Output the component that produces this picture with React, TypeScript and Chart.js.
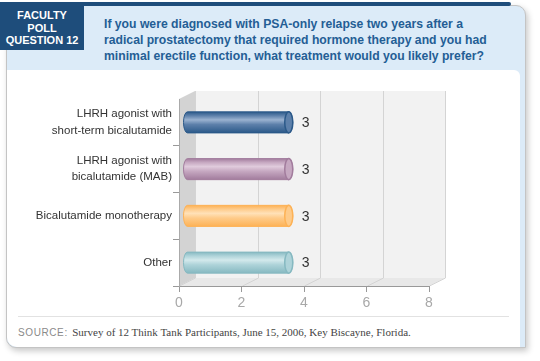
import React, { useEffect, useRef } from "react";
import { Chart, registerables } from "chart.js";

Chart.register(...registerables);

// ---- data ----
const categories: (string | string[])[] = [
  ["LHRH agonist with", "short-term bicalutamide"],
  ["LHRH agonist with", "bicalutamide (MAB)"],
  "Bicalutamide monotherapy",
  "Other",
];
const values = [3, 3, 3, 3];
const xTickValues = [0, 2, 4, 6, 8];
const headerLabel = ["FACULTY", "POLL", "QUESTION 12"];
const questionLines = [
  "If you were diagnosed with PSA-only relapse two years after a",
  "radical prostatectomy that required hormone therapy and you had",
  "minimal erectile function, what treatment would you likely prefer?",
];
const sourceLabel = "SOURCE:";
const sourceText = "Survey of 12 Think Tank Participants, June 15, 2006, Key Biscayne, Florida.";

// ---- styles ----
const barEdge = ["#2b5989", "#a27c9d", "#fdb256", "#86b9c1"];
const barMid = ["#5d80aa", "#c6a8c1", "#fecb8a", "#aed3d9"];
const barLight = ["#9ab2d0", "#e0cbdc", "#ffe1b8", "#d3e9ec"];
const DEPTH_X = 16;
const DEPTH_Y = -8;
const SANS = '"Liberation Sans", Arial, Helvetica, sans-serif';

const threeD = {
  id: "threeD",
  beforeDraw(chart: any) {
    const { ctx, chartArea } = chart;
    const xs = chart.scales.x;
    const L = chartArea.left, R = chartArea.right, T = chartArea.top, B = chartArea.bottom;
    ctx.save();
    // back wall
    ctx.fillStyle = "#f2f2f2";
    ctx.fillRect(L + DEPTH_X, T + DEPTH_Y, R - L, B - T);
    // floor
    ctx.fillStyle = "#e8e8e8";
    ctx.beginPath();
    ctx.moveTo(L, B);
    ctx.lineTo(R, B);
    ctx.lineTo(R + DEPTH_X, B + DEPTH_Y);
    ctx.lineTo(L + DEPTH_X, B + DEPTH_Y);
    ctx.closePath();
    ctx.fill();
    // grid lines on wall + floor
    ctx.strokeStyle = "#d4d4d4";
    ctx.lineWidth = 1;
    xs.ticks.forEach((t: any) => {
      const px = Math.round(xs.getPixelForValue(t.value)) + 0.5;
      ctx.beginPath();
      ctx.moveTo(px + DEPTH_X, T + DEPTH_Y);
      ctx.lineTo(px + DEPTH_X, B + DEPTH_Y);
      ctx.lineTo(px, B);
      ctx.stroke();
    });
    // left wall
    ctx.fillStyle = "#d3d3d3";
    ctx.beginPath();
    ctx.moveTo(L, T);
    ctx.lineTo(L + DEPTH_X, T + DEPTH_Y);
    ctx.lineTo(L + DEPTH_X, B + DEPTH_Y);
    ctx.lineTo(L, B);
    ctx.closePath();
    ctx.fill();
    ctx.restore();
  },
  afterDatasetsDraw(chart: any) {
    const { ctx } = chart;
    const meta = chart.getDatasetMeta(0);
    ctx.save();
    meta.data.forEach((el: any, i: number) => {
      const h = el.height;
      const top = el.y - h / 2;
      const bottom = el.y + h / 2;
      const rx = 4;
      const x0 = el.base + 4 + rx;
      const x1 = el.x + DEPTH_X;
      const g = ctx.createLinearGradient(0, top, 0, bottom);
      g.addColorStop(0, barEdge[i]);
      g.addColorStop(0.18, barMid[i]);
      g.addColorStop(0.38, barLight[i]);
      g.addColorStop(0.6, barMid[i]);
      g.addColorStop(1, barEdge[i]);
      ctx.beginPath();
      ctx.moveTo(x0, top);
      ctx.lineTo(x1, top);
      ctx.ellipse(x1, el.y, rx, h / 2, 0, -Math.PI / 2, Math.PI / 2);
      ctx.lineTo(x0, bottom);
      ctx.ellipse(x0, el.y, rx, h / 2, 0, Math.PI / 2, (3 * Math.PI) / 2);
      ctx.closePath();
      ctx.fillStyle = g;
      ctx.fill();
      ctx.strokeStyle = barEdge[i];
      ctx.lineWidth = 1;
      ctx.stroke();
      // end cap
      ctx.beginPath();
      ctx.ellipse(x1, el.y, rx, h / 2, 0, 0, Math.PI * 2);
      ctx.fillStyle = barMid[i];
      ctx.fill();
      ctx.strokeStyle = barEdge[i];
      ctx.lineWidth = 1.5;
      ctx.stroke();
      // value label
      ctx.fillStyle = "#333";
      ctx.font = `14px ${SANS}`;
      ctx.textAlign = "left";
      ctx.textBaseline = "middle";
      ctx.fillText(String(values[i]), x1 + rx + 9, el.y + 1);
    });
    ctx.restore();
  },
};

export default function App() {
  const ref = useRef<HTMLCanvasElement | null>(null);
  useEffect(() => {
    document.body.style.margin = "0";
    const chart = new Chart(ref.current as HTMLCanvasElement, {
      type: "bar",
      data: {
        labels: categories as any,
        datasets: [
          {
            data: values,
            backgroundColor: "rgba(0,0,0,0)",
            borderWidth: 0,
            categoryPercentage: 1,
            barPercentage: 0.45,
          },
        ],
      },
      options: {
        indexAxis: "y",
        responsive: false,
        maintainAspectRatio: false,
        animation: false,
        devicePixelRatio: 1,
        layout: { padding: { left: 0, top: 99, right: 111, bottom: 0 } },
        plugins: { legend: { display: false }, tooltip: { enabled: false } },
        scales: {
          x: {
            min: 0,
            max: 8,
            afterBuildTicks: (s: any) => {
              s.ticks = xTickValues.map((v) => ({ value: v }));
            },
            afterFit: (s: any) => {
              s.height = 75;
            },
            ticks: { color: "#a8a8a8", font: { size: 14, family: SANS }, padding: 3 },
            grid: { drawOnChartArea: false, drawTicks: true, tickLength: 6, color: "#999" },
            border: { color: "#999", width: 1 },
          },
          y: {
            afterFit: (s: any) => {
              s.width = 179;
            },
            ticks: { color: "#333", font: { size: 11.5, family: SANS, lineHeight: 1.4 }, padding: 1 },
            grid: {
              offset: true,
              drawOnChartArea: false,
              drawTicks: true,
              tickLength: 6,
              color: (c: any) => (c.index === 0 ? "rgba(0,0,0,0)" : "#999"),
            },
            border: { color: "#aaa", width: 1 },
          },
        },
      },
      plugins: [threeD],
    });
    return () => chart.destroy();
  }, []);

  return (
    <div style={{ position: "relative", width: 540, height: 361, overflow: "hidden", background: "#fff", fontFamily: SANS }}>
      {/* card */}
      <div
        style={{
          position: "absolute",
          left: 6,
          top: 5,
          width: 518,
          height: 341,
          border: "1px solid #c4c4c4",
          borderRadius: "0 10px 0 10px",
          background: "#dcebf8",
          boxShadow: "2px 3px 6px rgba(0,0,0,0.22)",
        }}
      >
        <div
          style={{
            position: "absolute",
            left: 0,
            top: 64,
            right: 5,
            bottom: 0,
            background: "#fff",
            borderRadius: "0 6px 0 10px",
          }}
        />
        <div style={{ position: "absolute", left: 11, right: 16, top: 310, height: 1, background: "#e2e2e2" }} />
      </div>
      {/* top strip */}
      <div style={{ position: "absolute", left: 0, top: 2, width: 511, height: 4, background: "#1e4d7b", borderRadius: "0 3px 3px 0" }} />
      {/* label box */}
      <div
        style={{
          position: "absolute",
          left: 0,
          top: 3,
          width: 84,
          height: 47,
          background: "#1e4d7b",
          color: "#fff",
          fontWeight: "bold",
          fontSize: 11,
          lineHeight: "12.5px",
          textAlign: "center",
          paddingTop: 6,
          boxSizing: "border-box",
        }}
      >
        {headerLabel.map((l, i) => (
          <div key={i}>{l}</div>
        ))}
      </div>
      {/* question */}
      <div
        style={{
          position: "absolute",
          left: 104,
          top: 16,
          color: "#245e95",
          fontWeight: "bold",
          fontSize: 12.2,
          lineHeight: "16px",
          whiteSpace: "nowrap",
        }}
      >
        {questionLines.map((l, i) => (
          <div key={i}>{l}</div>
        ))}
      </div>
      {/* source */}
      <div style={{ position: "absolute", left: 18, top: 324, whiteSpace: "nowrap", lineHeight: "14px" }}>
        <span style={{ fontFamily: SANS, fontSize: 10, color: "#8a8a8a", letterSpacing: 0.6 }}>{sourceLabel}</span>{" "}
        <span style={{ fontFamily: '"Liberation Serif", "Times New Roman", serif', fontSize: 11, color: "#444" }}>{sourceText}</span>
      </div>
      <canvas
        ref={ref}
        width={540}
        height={361}
        style={{ position: "absolute", left: 0, top: 0, width: 540, height: 361, pointerEvents: "none" }}
      />
    </div>
  );
}
